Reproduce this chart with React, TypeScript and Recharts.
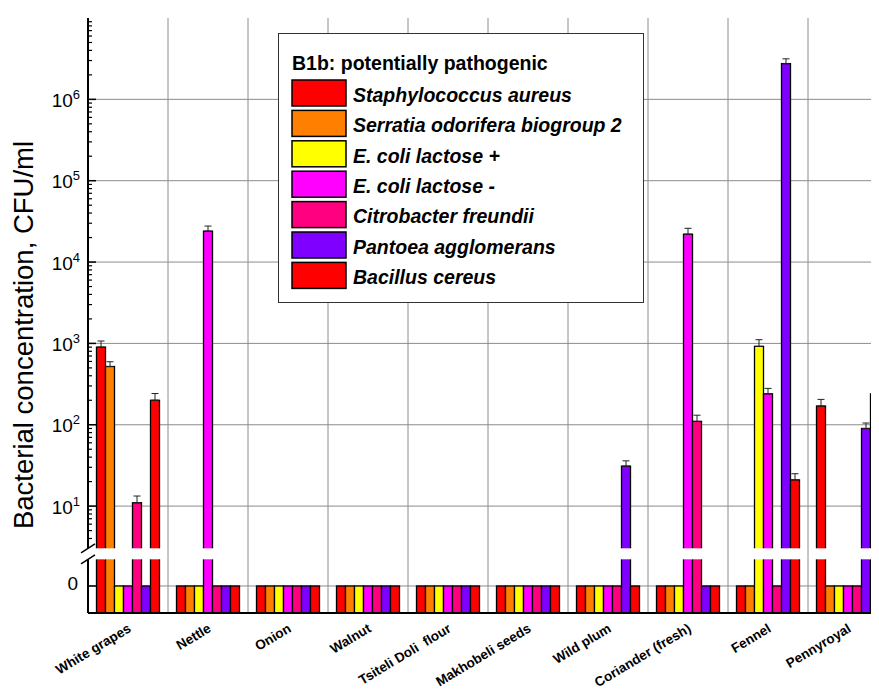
import React from "react";
import { BarChart, Bar, XAxis, YAxis, CartesianGrid, ErrorBar, Legend } from "recharts";

const categories = [
  "White grapes",
  "Nettle",
  "Onion",
  "Walnut",
  "Tsiteli Doli  flour",
  "Makhobeli seeds",
  "Wild plum",
  "Coriander (fresh)",
  "Fennel",
  "Pennyroyal",
];

// CFU/ml per sample, with the upper error
const staphylococcus = [900, 0, 0, 0, 0, 0, 0, 0, 0, 170];
const staphylococcusErr = [170, 0, 0, 0, 0, 0, 0, 0, 0, 35];
const serratia = [520, 0, 0, 0, 0, 0, 0, 0, 0, 0];
const serratiaErr = [75, 0, 0, 0, 0, 0, 0, 0, 0, 0];
const ecoliPlus = [0, 0, 0, 0, 0, 0, 0, 0, 920, 0];
const ecoliPlusErr = [0, 0, 0, 0, 0, 0, 0, 0, 190, 0];
const ecoliMinus = [0, 24000, 0, 0, 0, 0, 0, 22000, 240, 0];
const ecoliMinusErr = [0, 3700, 0, 0, 0, 0, 0, 4000, 40, 0];
const citrobacter = [11, 0, 0, 0, 0, 0, 0, 110, 0, 0];
const citrobacterErr = [2.3, 0, 0, 0, 0, 0, 0, 21, 0, 0];
const pantoea = [0, 0, 0, 0, 0, 0, 31, 0, 2750000, 90];
const pantoeaErr = [0, 0, 0, 0, 0, 0, 5, 0, 400000, 15];
const bacillus = [200, 0, 0, 0, 0, 0, 0, 0, 21, 240];
const bacillusErr = [42, 0, 0, 0, 0, 0, 0, 0, 4, 47];

const decadeExps = [1, 2, 3, 4, 5, 6];

const series = [
  { key: "staph", name: "Staphylococcus aureus", color: "#ff0000", values: staphylococcus, errors: staphylococcusErr },
  { key: "serr", name: "Serratia odorifera biogroup 2", color: "#ff8000", values: serratia, errors: serratiaErr },
  { key: "ecp", name: "E. coli lactose +", color: "#ffff00", values: ecoliPlus, errors: ecoliPlusErr },
  { key: "ecm", name: "E. coli lactose -", color: "#ff00ff", values: ecoliMinus, errors: ecoliMinusErr },
  { key: "citro", name: "Citrobacter freundii", color: "#ff0080", values: citrobacter, errors: citrobacterErr },
  { key: "pant", name: "Pantoea agglomerans", color: "#8000ff", values: pantoea, errors: pantoeaErr },
  { key: "bac", name: "Bacillus cereus", color: "#ff0000", values: bacillus, errors: bacillusErr },
];

// broken axis: a linear "0" band at the bottom, then log10 above the break
const LOG_SHIFT = 0.314;
const ZERO_POS = 0.332;
const BREAK_LO = 0.66;
const BREAK_HI = 0.795;
const Y_TOP = 7 + LOG_SHIFT;
const toPos = (v: number) => (v > 0 ? Math.log10(v) + LOG_SHIFT : ZERO_POS);

const rows = categories.map((name, i) => {
  const row: Record<string, any> = { name };
  series.forEach((s) => {
    const v = s.values[i];
    const e = s.errors[i];
    row[s.key] = toPos(v);
    row[s.key + "Err"] = v > 0 && e > 0 ? [0, Math.log10(v + e) - Math.log10(v)] : null;
  });
  return row;
});

const majorPos = new Map<number, number>();
decadeExps.forEach((n) => majorPos.set(n + LOG_SHIFT, n));
const minorTicks: number[] = [];
for (let n = 0; n < 7; n++) {
  for (let k = 2; k <= 9; k++) {
    const p = n + Math.log10(k) + LOG_SHIFT;
    if (p > BREAK_HI + 0.02 && p < Y_TOP) minorTicks.push(p);
  }
}
const yTicks = [ZERO_POS, BREAK_LO, BREAK_HI, ...majorPos.keys(), ...minorTicks];
const gridRows = [ZERO_POS, ...majorPos.keys()];

const FONT = "'Liberation Sans', Arial, sans-serif";

function YTick(props: any) {
  const { x, y, payload } = props;
  const v = payload.value;
  if (v === ZERO_POS) {
    return (
      <g>
        <line x1={x} x2={x + 8} y1={y} y2={y} stroke="#000" strokeWidth={1.5} />
        <text x={x - 10} y={y + 4} textAnchor="end" fontSize={19} fill="#000">0</text>
      </g>
    );
  }
  if (v === BREAK_LO || v === BREAK_HI) {
    const up = v === BREAK_LO;
    return (
      <g>
        <rect x={x - 2} y={up ? y - 6 : y} width={4} height={6} fill="#fff" />
        <line x1={x - 7} y1={y + 4.5} x2={x + 7} y2={y - 4.5} stroke="#000" strokeWidth={1.5} />
      </g>
    );
  }
  const exp = majorPos.get(v);
  if (exp !== undefined) {
    return (
      <g>
        <line x1={x} x2={x + 8} y1={y} y2={y} stroke="#000" strokeWidth={1.5} />
        <text x={x - 8} y={y + 7.5} textAnchor="end" fontSize={19} fill="#000">
          10<tspan dy={-8} fontSize={13}>{exp}</tspan>
        </text>
      </g>
    );
  }
  return <line x1={x} x2={x + 4} y1={y} y2={y} stroke="#000" strokeWidth={1.2} />;
}

function XTick(props: any) {
  const { x, y, payload } = props;
  return (
    <text
      transform={`translate(${x + 4},${y + 18}) rotate(-31)`}
      textAnchor="end"
      fontSize={13.5}
      fontWeight="bold"
      fill="#000"
      style={{ whiteSpace: "pre" }}
    >
      {payload.value}
    </text>
  );
}

function TopTick(props: any) {
  const { x, y } = props;
  return <line x1={x} x2={x} y1={y} y2={y + 5} stroke="#000" strokeWidth={1.2} />;
}

// bar with a white cut where the axis is broken
function BrokenBar(props: any) {
  const { x, y, width, height, fill, pos } = props;
  if (!height || height <= 0) return null;
  const base = y + height;
  const ppu = height / pos;
  return (
    <g>
      <rect x={x} y={y} width={width} height={height} fill={fill} stroke="#000" strokeWidth={1.3} />
      {pos > BREAK_HI && (
        <rect
          x={x - 1.5}
          y={base - BREAK_HI * ppu}
          width={width + 3}
          height={(BREAK_HI - BREAK_LO) * ppu}
          fill="#fff"
        />
      )}
    </g>
  );
}

function LegendBox() {
  return (
    <svg width={366} height={270} style={{ display: "block" }}>
      <rect x={0.5} y={0.5} width={365} height={269} fill="#fff" stroke="#333" strokeWidth={1} />
      <text x={14} y={37} fontSize={19.5} fontWeight="bold" fill="#000">
        B1b: potentially pathogenic
      </text>
      {series.map((s, i) => {
        const top = 47 + i * 30.4;
        return (
          <g key={s.key}>
            <rect x={14} y={top} width={54} height={26} fill={s.color} stroke="#000" strokeWidth={1.5} />
            <text x={75} y={top + 21.7} fontSize={19.5} fontWeight="bold" fontStyle="italic" fill="#000">
              {s.name}
            </text>
          </g>
        );
      })}
    </svg>
  );
}

const renderYTitle = () => (
  <text
    x={25}
    y={327}
    transform="rotate(-90 25 327)"
    textAnchor="middle"
    fontSize={27.5}
    fill="#000"
  >
    Bacterial concentration, CFU/ml
  </text>
);

export default function App() {
  return (
    <div style={{ width: 871, height: 683, overflow: "hidden", position: "relative", fontFamily: FONT }}>
      <BarChart
        width={900}
        height={683}
        data={rows}
        margin={{ top: 10, right: 20, bottom: 0, left: 0 }}
        barCategoryGap={8.5}
        barGap={0}
      >
        <CartesianGrid
          stroke="#8c8c8c"
          strokeWidth={1}
          horizontalValues={gridRows}
          verticalCoordinatesGenerator={({ offset }: any) =>
            categories.map((_, i) => offset.left + ((i + 1) * offset.width) / categories.length)
          }
        />
        <XAxis
          dataKey="name"
          height={78}
          interval={0}
          tickLine={false}
          tickSize={0}
          tickMargin={0}
          axisLine={{ stroke: "#000", strokeWidth: 2 }}
          tick={XTick}
        />
        <XAxis
          xAxisId="top"
          orientation="top"
          dataKey="name"
          height={0}
          interval={0}
          tickLine={false}
          tickSize={0}
          tickMargin={0}
          axisLine={{ stroke: "#000", strokeWidth: 2 }}
          tick={TopTick}
        />
        <YAxis
          width={80}
          type="number"
          domain={[0, Y_TOP]}
          allowDataOverflow
          ticks={yTicks}
          interval={0}
          tickLine={false}
          tickSize={0}
          tickMargin={0}
          axisLine={{ stroke: "#000", strokeWidth: 2 }}
          tick={YTick}
          label={{ content: renderYTitle }}
        />
        <Legend
          layout="vertical"
          align="center"
          verticalAlign="middle"
          wrapperStyle={{ left: 270, top: 25, width: 366, height: 270 }}
          content={() => <LegendBox />}
        />
        {series.map((s) => (
          <Bar
            key={s.key}
            dataKey={s.key}
            name={s.name}
            fill={s.color}
            isAnimationActive={false}
            shape={(p: any) => <BrokenBar {...p} pos={p.payload[s.key]} />}
          >
            <ErrorBar dataKey={s.key + "Err"} direction="y" width={3.5} stroke="#222" strokeWidth={1} />
          </Bar>
        ))}
      </BarChart>
    </div>
  );
}
